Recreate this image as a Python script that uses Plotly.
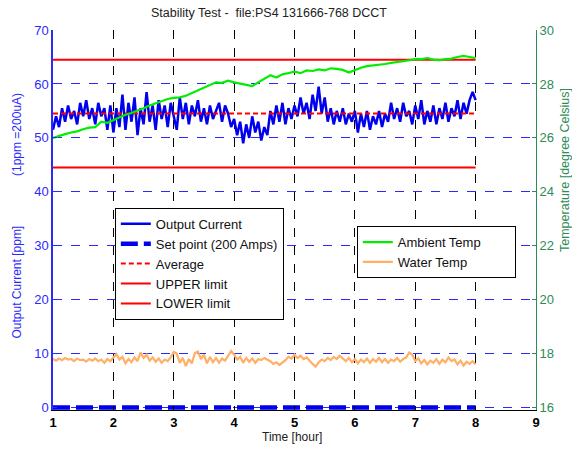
import numpy as np
import plotly.graph_objects as go

# ---------------- data ----------------
output_current = [
    51.5, 54.0, 52.0, 55.5, 53.0, 56.0, 53.5, 55.0, 52.5, 56.5,
    54.0, 57.0, 53.5, 55.5, 52.5, 56.5, 54.0, 55.5, 51.5, 56.0,
    51.0, 55.5, 52.0, 58.0, 51.5, 56.5, 53.0, 57.5, 50.5, 55.5,
    52.5, 58.5, 53.0, 56.0, 51.5, 57.0, 53.5, 56.0, 52.0, 56.5,
    54.0, 51.5, 57.5, 53.5, 56.5, 52.5, 56.0, 54.0, 57.0, 53.0,
    55.5, 52.5, 56.0, 53.5, 55.0, 56.5, 53.0, 56.0, 54.5, 52.0,
    53.5, 50.5, 53.0, 49.0, 52.5, 50.0, 54.0, 51.0, 53.0, 49.5,
    52.0, 50.5, 55.0, 52.5, 56.0, 53.0, 56.5, 52.5, 55.5, 53.5,
    56.0, 54.0, 57.5, 54.5, 56.5, 53.5, 58.0, 55.0, 59.5, 54.5,
    57.5, 53.0, 55.5, 52.5, 55.0, 53.0, 55.5, 52.5, 54.5, 53.0,
    55.0, 51.0, 54.5, 52.0, 55.0, 51.5, 54.0, 52.5, 55.0, 52.0,
    54.5, 53.0, 56.5, 53.5, 55.5, 53.0, 56.5, 54.0, 55.0, 52.5,
    56.0, 53.5, 57.0, 52.5, 55.0, 53.0, 56.0, 52.5, 55.5, 53.5,
    56.5, 53.0, 55.5, 54.0, 57.0, 53.5, 56.5, 54.5, 57.0, 58.5,
    57.0,
]

ambient_temp = [
    26.00, 26.08, 26.14, 26.20, 26.24, 26.32, 26.38, 26.40, 26.60, 26.56,
    26.66, 26.78, 26.86, 26.92, 27.00, 27.10, 27.20, 27.28, 27.38, 27.44,
    27.48, 27.50, 27.56, 27.66, 27.76, 27.86, 27.96, 28.06, 28.04, 28.12,
    28.06, 28.02, 27.98, 27.92, 28.06, 28.18, 28.32, 28.24, 28.36, 28.40,
    28.46, 28.40, 28.50, 28.48, 28.54, 28.50, 28.58, 28.56, 28.52, 28.42,
    28.52, 28.60, 28.66, 28.68, 28.70, 28.74, 28.78, 28.80, 28.84, 28.88,
    28.92, 28.92, 28.96, 28.90, 28.88, 28.92, 28.94, 29.00, 29.04, 29.00,
    28.96,
]

water_temp = [
    17.80, 17.74, 17.82, 17.76, 17.84, 17.78, 17.80, 17.72, 17.82, 17.76,
    17.78, 17.70, 17.80, 17.74, 17.82, 17.72, 17.78, 17.66, 17.80, 17.72,
    17.86, 17.98, 17.78, 17.88, 17.64, 17.80, 17.68, 17.86, 17.72, 18.04,
    17.84, 17.96, 17.74, 17.86, 17.70, 17.82, 17.66, 17.78, 17.72, 17.86,
    18.06, 18.00, 17.66, 17.84, 17.54, 17.80, 17.64, 18.02, 18.08, 17.80,
    17.96, 17.64, 17.88, 17.68, 17.84, 17.66, 17.82, 17.74, 17.92, 18.10,
    17.96, 17.78, 17.88, 17.66, 17.84, 17.70, 17.82, 17.66, 17.80, 17.76,
    17.84, 17.78, 17.72, 17.62, 17.68, 17.58, 17.66, 17.76, 17.88, 17.82,
    17.96, 17.84, 17.92, 17.80, 17.86, 17.72, 17.62, 17.52, 17.68, 17.78,
    17.72, 17.84, 17.76, 17.88, 17.80, 17.92, 17.82, 17.72, 17.84, 17.68,
    17.80, 17.64, 17.78, 17.68, 17.82, 17.66, 17.80, 17.70, 17.84, 17.68,
    17.80, 17.66, 17.78, 17.72, 17.84, 17.70, 17.80, 17.86, 18.04, 17.96,
    17.72, 17.82, 17.64, 17.76, 17.60, 17.74, 17.66, 17.80, 17.62, 17.78,
    17.68, 17.86, 17.72, 17.78, 17.60, 17.74, 17.56, 17.70, 17.62, 17.72,
    17.60,
]

t_start, t_end = 1.0, 8.0          # hours
set_point = 0.0                    # ppm
average = 54.5                     # ppm
upper_limit = 64.5                 # ppm
lower_limit = 44.5                 # ppm

x_ticks = [1, 2, 3, 4, 5, 6, 7, 8, 9]
y_ticks = [0, 10, 20, 30, 40, 50, 60, 70]
y2_ticks = [16, 18, 20, 22, 24, 26, 28, 30]

title_text = "Stability Test -\u00a0\u00a0file:PS4 131666-768 DCCT"

# ---------------- figure ----------------
t_cur = np.linspace(t_start, t_end, len(output_current))
t_amb = np.linspace(t_start, t_end, len(ambient_temp))
t_wat = np.linspace(t_start, t_end, len(water_temp))
t_line = [t_start, t_end]

BLUE = "#0000ee"
RED = "#ff0000"
GREEN = "#00ee00"
ORANGE = "#ffb066"
AXBLUE = "#2a2aff"
AXGREEN = "#2e8b57"
FONT = "Liberation Sans, Arial, sans-serif"
PAD = "\u00a0" * 8

# left axis (ppm) and right axis (deg C) share the same frame: 70 ppm <-> 14 degC
y_lo, y_hi = -0.45, 70.0
t_lo, t_hi = 16 + y_lo * (14 / 70), 30.0

fig = go.Figure()

fig.add_trace(go.Scatter(x=t_wat, y=water_temp, mode="lines", name="Water Temp" + PAD,
                         line=dict(color=ORANGE, width=2.2), yaxis="y2",
                         legend="legend2", legendrank=2))
fig.add_trace(go.Scatter(x=t_amb, y=ambient_temp, mode="lines", name="Ambient Temp" + PAD,
                         line=dict(color=GREEN, width=2.2), yaxis="y2",
                         legend="legend2", legendrank=1))

fig.add_trace(go.Scatter(x=t_cur, y=output_current, mode="lines", name="Output Current",
                         line=dict(color=BLUE, width=2.5), legendrank=1))
fig.add_trace(go.Scatter(x=t_line, y=[set_point, set_point], mode="lines",
                         name="Set point (200 Amps)",
                         line=dict(color=BLUE, width=4.5, dash="17px,6px"), legendrank=2))
fig.add_trace(go.Scatter(x=t_line, y=[average, average], mode="lines", name="Average",
                         line=dict(color=RED, width=2, dash="5px,3px"), legendrank=3))
fig.add_trace(go.Scatter(x=t_line, y=[upper_limit, upper_limit], mode="lines",
                         name="UPPER limit", line=dict(color=RED, width=2), legendrank=4))
fig.add_trace(go.Scatter(x=t_line, y=[lower_limit, lower_limit], mode="lines",
                         name="LOWER limit", line=dict(color=RED, width=2), legendrank=5))

fig.update_layout(
    width=572, height=449,
    margin=dict(l=53, r=36, t=30, b=39, autoexpand=False),
    paper_bgcolor="white", plot_bgcolor="white",
    font=dict(family=FONT, size=12, color="#222222"),
    showlegend=True,
    legend=dict(x=0.128, y=0.532, xanchor="left", yanchor="top",
                bgcolor="white", bordercolor="black", borderwidth=1,
                font=dict(size=13, color="#111111"), tracegroupgap=0,
                traceorder="normal"),
    legend2=dict(x=0.629, y=0.484, xanchor="left", yanchor="top",
                 bgcolor="white", bordercolor="black", borderwidth=1,
                 font=dict(size=13, color="#111111"), traceorder="normal"),
    xaxis=dict(range=[1, 9], tickvals=x_ticks, ticktext=[f"<b>{v}</b>" for v in x_ticks],
               ticks="inside", ticklen=4, tickcolor="black", automargin=False,
               showline=True, linecolor="black", linewidth=1,
               showgrid=True, gridcolor="black", griddash="dash", gridwidth=1,
               zeroline=False, tickfont=dict(size=13, color="black")),
    yaxis=dict(range=[y_lo, y_hi], tickvals=y_ticks, ticks="inside", ticklen=4,
               tickcolor=AXBLUE, showline=True, linecolor=AXBLUE, linewidth=1.5,
               showgrid=True, gridcolor=AXBLUE, griddash="dash", gridwidth=1,
               zeroline=False, automargin=False, tickfont=dict(size=13, color=AXBLUE)),
    yaxis2=dict(range=[t_lo, t_hi], tickvals=y2_ticks, overlaying="y", side="right",
                ticks="inside", ticklen=4, tickcolor=AXGREEN, automargin=False,
                showline=True, linecolor=AXGREEN, linewidth=1,
                showgrid=False, zeroline=False, tickfont=dict(size=13, color=AXGREEN)),
    annotations=[
        dict(text=title_text, xref="paper", yref="paper", x=0.447, y=1.0, yshift=17,
             xanchor="center", yanchor="middle", showarrow=False,
             font=dict(size=12.5, color="#222222")),
        dict(text="(1ppm =200uA)", xref="paper", yref="paper",
             x=0, xshift=-36, y=0.7237, xanchor="center", yanchor="middle",
             textangle=-90, showarrow=False, font=dict(size=12, color=AXBLUE)),
        dict(text="Output Current [ppm]", xref="paper", yref="paper",
             x=0, xshift=-36, y=0.3355, xanchor="center", yanchor="middle",
             textangle=-90, showarrow=False, font=dict(size=12, color=AXBLUE)),
        dict(text="Temperature [degree Celsius]", xref="paper", yref="paper",
             x=1, xshift=29, y=0.6316, xanchor="center", yanchor="middle",
             textangle=-90, showarrow=False, font=dict(size=12.5, color=AXGREEN)),
        dict(text="Time [hour]", xref="paper", yref="paper",
             x=0.495, y=0, yshift=-27, xanchor="center", yanchor="middle",
             showarrow=False, font=dict(size=12, color="#222222")),
    ],
)

fig.write_html("out.html", config={"displayModeBar": False},
               post_script="document.body.style.margin='0px';")
